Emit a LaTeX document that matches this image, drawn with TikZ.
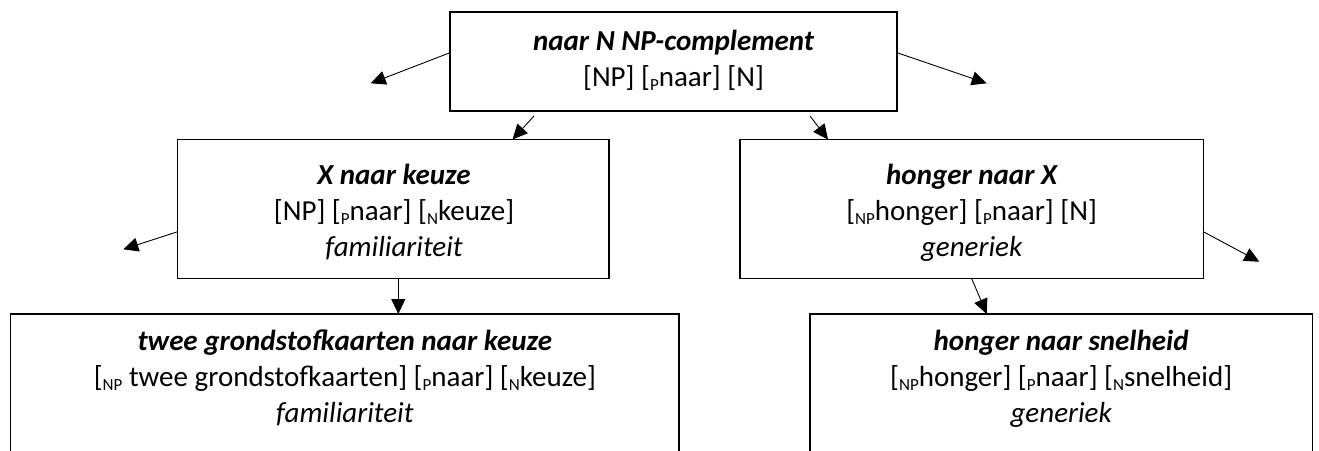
\documentclass[tikz,border=0pt]{standalone}
\usepackage{fontspec}
\setmainfont{Carlito}
\usetikzlibrary{arrows.meta,calc}
\newcommand\lsub[1]{\raisebox{-0.3ex}{\fontsize{17}{17}\selectfont #1}}
\begin{document}
\begin{tikzpicture}[x=1pt,y=-1pt,
 box/.style={draw, line width=1.1pt, inner sep=0pt, outer sep=0pt},
 txt/.style={anchor=base, inner sep=0pt, font=\fontsize{29}{35}\selectfont},
 ttl/.style={txt, font=\fontsize{29}{35}\selectfont\bfseries\itshape},
 emp/.style={txt, font=\fontsize{29}{35}\selectfont\itshape},
 arr/.style={line width=0.9pt, -{Triangle[length=15pt,width=14pt]}}]
\useasboundingbox (0,0) rectangle (1319,450);
\clip (0,0) rectangle (1319,450);
% boxes
\node[box, minimum width=447pt, minimum height=99pt] (top) at (673.5,61.5) {};
\node[box, minimum width=431.3pt, minimum height=139pt] (ml) at (393.35,209) {};
\node[box, minimum width=463.3pt, minimum height=139pt] (mr) at (971.65,209) {};
\node[box, minimum width=668.3pt, minimum height=166pt] (bl) at (344.85,397) {};
\node[box, minimum width=502.3pt, minimum height=166pt] (br) at (1061.15,397) {};
% texts
\node[ttl] (t1) at (673.5,50) {naar N NP-complement};
\node[txt] (t2) at (673.5,86) {[NP] [\lsub{P}naar] [N]};
\node[ttl] (l1) at (394,184) {X naar keuze};
\node[txt] (l2) at (394,220) {[NP] [\lsub{P}naar] [\lsub{N}keuze]};
\node[emp] (l3) at (394,256) {familiariteit};
\node[ttl] (r1) at (971.6,184) {honger naar X};
\node[txt] (r2) at (971.6,220) {[\lsub{NP}honger] [\lsub{P}naar] [N]};
\node[emp] (r3) at (971.6,256) {generiek};
\node[ttl] (b1) at (344.85,350) {twee grondstofkaarten naar keuze};
\node[txt] (b2) at (344.85,386) {[\lsub{NP} twee grondstofkaarten] [\lsub{P}naar] [\lsub{N}keuze]};
\node[emp] (b3) at (344.85,422) {familiariteit};
\node[ttl] (c1) at (1061.15,350) {honger naar snelheid};
\node[txt] (c2) at (1061.15,386) {[\lsub{NP}honger] [\lsub{P}naar] [\lsub{N}snelheid]};
\node[emp] (c3) at (1061.15,422) {generiek};
% dangling ends
\coordinate (dl) at (370.7,83.3);
\coordinate (dr) at (986.7,83.3);
\coordinate (ml-out) at (123.3,249.3);
\coordinate (mr-out) at (1259.3,261.7);
% connectors
\draw[arr] ($(top.north west)+(0,40.7)$) -- (dl);
\draw[arr] ($(top.north east)+(0,40.7)$) -- (dr);
\draw[arr] ($(top.south west)+(84,5)$) -- ($(ml.north west)+(334.8,0)$);
\draw[arr] ($(top.south west)+(360,5)$) -- ($(mr.north west)+(88,0)$);
\draw[arr] ($(ml.north west)+(0,92.2)$) -- (ml-out);
\draw[arr] ($(mr.north east)+(0,92.2)$) -- (mr-out);
\draw[arr] ($(ml.south west)+(220.6,0)$) -- ($(bl.north west)+(387.6,0)$);
\draw[arr] (mr.south) -- ($(br.north west)+(176.7,0)$);
\end{tikzpicture}
\end{document}
